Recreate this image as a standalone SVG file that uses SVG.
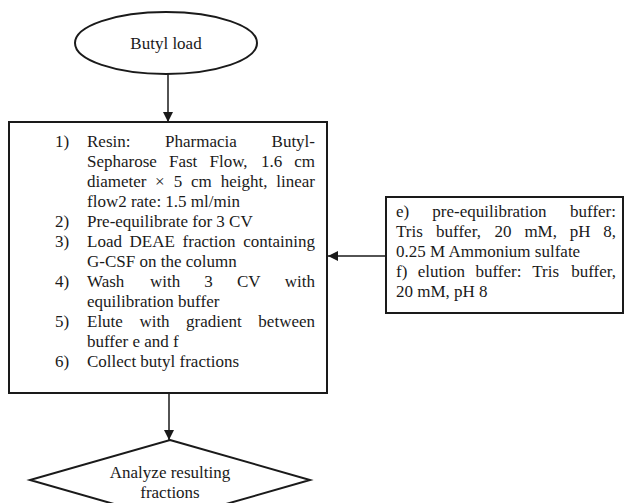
<svg xmlns="http://www.w3.org/2000/svg" width="625" height="503" viewBox="0 0 625 503">
<style>
  .shape { fill: #fff; stroke: #1a1a1a; stroke-width: 2; }
  .t { font-family: "Liberation Serif", "Times New Roman", serif; font-size: 17px; fill: #1a1a1a; }
  .c { text-anchor: middle; }
  .e { text-anchor: end; }
  .conn { stroke: #1a1a1a; stroke-width: 1.5; fill: none; marker-end: url(#ah); }
</style>
<defs>
  <marker id="ah" viewBox="0 0 10 10" refX="10" refY="5" markerWidth="10" markerHeight="10" markerUnits="userSpaceOnUse" orient="auto">
    <path d="M0,0 L10,5 L0,10 Z" fill="#1a1a1a"/>
  </marker>
</defs>
<rect width="625" height="503" fill="#fff"/>

<g id="connectors">
  <line class="conn" x1="168" y1="74" x2="168" y2="122"/>
  <line class="conn" x1="169" y1="393" x2="169" y2="440"/>
  <line class="conn" x1="386" y1="256" x2="328" y2="256"/>
</g>

<g id="butyl-load">
  <ellipse class="shape" cx="166" cy="43" rx="91" ry="31"/>
  <text class="t c" x="166" y="49">Butyl load</text>
</g>

<g id="procedure">
  <rect class="shape" x="9" y="122" width="318" height="271"/>
  <text class="t" x="55" y="147">1)</text>
  <text class="t" x="87" y="147">Resin:</text>
  <text class="t" x="165" y="147">Pharmacia</text>
  <text class="t e" x="315" y="147">Butyl-</text>

  <text class="t" x="87" y="167">Sepharose</text>
  <text class="t" x="169" y="167">Fast</text>
  <text class="t" x="209.5" y="167">Flow,</text>
  <text class="t" x="261" y="167">1.6</text>
  <text class="t e" x="315" y="167">cm</text>

  <text class="t" x="87" y="187">diameter</text>
  <text class="t" x="155" y="187">×</text>
  <text class="t" x="173.7" y="187">5</text>
  <text class="t" x="191" y="187">cm</text>
  <text class="t" x="220.7" y="187">height,</text>
  <text class="t e" x="315" y="187">linear</text>

  <text class="t" x="87" y="207">flow2 rate: 1.5 ml/min</text>

  <text class="t" x="55" y="227">2)</text>
  <text class="t" x="87" y="227">Pre-equilibrate for 3 CV</text>

  <text class="t" x="55" y="247">3)</text>
  <text class="t" x="87" y="247">Load</text>
  <text class="t" x="129.6" y="247">DEAE</text>
  <text class="t" x="182.6" y="247">fraction</text>
  <text class="t e" x="315" y="247">containing</text>
  <text class="t" x="87" y="267">G-CSF on the column</text>

  <text class="t" x="55" y="287">4)</text>
  <text class="t" x="87" y="287">Wash</text>
  <text class="t" x="150" y="287">with</text>
  <text class="t" x="204.3" y="287">3</text>
  <text class="t" x="237" y="287">CV</text>
  <text class="t e" x="315" y="287">with</text>
  <text class="t" x="87" y="307">equilibration buffer</text>

  <text class="t" x="55" y="327">5)</text>
  <text class="t" x="87" y="327">Elute</text>
  <text class="t" x="139.4" y="327">with</text>
  <text class="t" x="186" y="327">gradient</text>
  <text class="t e" x="315" y="327">between</text>
  <text class="t" x="87" y="347">buffer e and f</text>

  <text class="t" x="55" y="367">6)</text>
  <text class="t" x="87" y="367">Collect butyl fractions</text>
</g>

<g id="buffers">
  <rect class="shape" x="386" y="197" width="237" height="116"/>
  <text class="t" x="396" y="217">e)</text>
  <text class="t" x="432.3" y="217">pre-equilibration</text>
  <text class="t e" x="616" y="217">buffer:</text>

  <text class="t" x="396" y="237">Tris</text>
  <text class="t" x="436.1" y="237">buffer,</text>
  <text class="t" x="494.6" y="237">20</text>
  <text class="t" x="524.4" y="237">mM,</text>
  <text class="t" x="569.7" y="237">pH</text>
  <text class="t e" x="616" y="237">8,</text>

  <text class="t" x="396" y="257">0.25 M Ammonium sulfate</text>

  <text class="t" x="396" y="277">f)</text>
  <text class="t" x="417.8" y="277">elution</text>
  <text class="t" x="475.5" y="277">buffer:</text>
  <text class="t" x="532.3" y="277">Tris</text>
  <text class="t e" x="616" y="277">buffer,</text>

  <text class="t" x="396" y="297">20 mM, pH 8</text>
</g>

<g id="analyze">
  <polygon class="shape" points="170,440 310,480 170,520 30,480"/>
  <text class="t c" x="170" y="478">Analyze resulting</text>
  <text class="t c" x="170" y="498">fractions</text>
</g>
</svg>
